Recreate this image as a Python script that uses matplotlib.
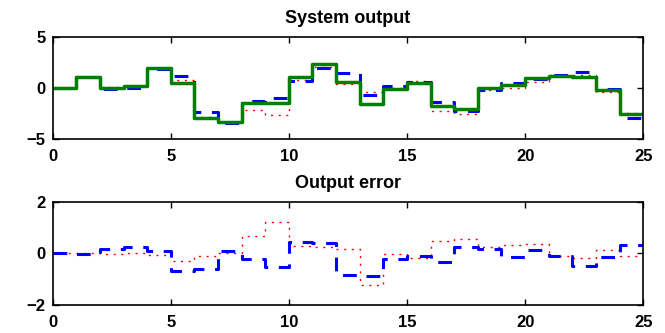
import numpy as np
import matplotlib
matplotlib.use("Agg")
from matplotlib import pyplot as plt

plt.rcParams['font.family'] = ['Liberation Sans', 'DejaVu Sans']
plt.rcParams['font.weight'] = 'bold'

# measured system output, one value per sample interval [k, k+1)
y_sys = [0.0, 1.1, 0.03, 0.22, 1.92, 0.48, -2.92, -3.28, -1.5, -1.45,
         1.1, 2.34, 0.6, -1.58, -0.05, 0.48, -1.72, -2.0, 0.0, 0.32,
         0.98, 1.2, 1.08, -0.22, -2.55]
# output errors of the two models (system minus model)
err_blue = [0.0, -0.02, 0.17, 0.26, 0.08, -0.7, -0.6, 0.1, -0.22, -0.52,
            0.45, 0.4, -0.85, -0.87, -0.22, -0.11, -0.32, 0.23, 0.17, -0.13,
            0.15, -0.1, -0.48, -0.15, 0.33]
err_red = [0.0, 0.0, -0.03, 0.0, -0.05, -0.28, -0.09, 0.0, 0.66, 1.23,
           0.3, 0.25, 0.17, -1.22, -0.03, -0.18, 0.49, 0.56, 0.23, 0.33,
           0.36, -0.1, -0.18, 0.15, -0.12]
xticks = [0, 5, 10, 15, 20, 25]

y_sys = np.array(y_sys)
err_blue = np.array(err_blue)
err_red = np.array(err_red)
y_blue = y_sys - err_blue
y_red = y_sys - err_red
t = np.arange(len(y_sys) + 1)


def stairs(ax, v, **kw):
    ax.step(t, np.append(v, v[-1]), where='post', **kw)


fig = plt.figure(figsize=(6.65, 3.33), dpi=100)
ax1 = fig.add_axes([0.0792, 0.5817, 0.888, 0.308])
ax2 = fig.add_axes([0.0792, 0.0841, 0.888, 0.310])

red_kw = dict(color='red', lw=1.0, dashes=(1.5, 4))
blue_kw = dict(color='blue', lw=2.2, dashes=(4.5, 3.5))

stairs(ax1, y_red, **red_kw)
stairs(ax1, y_blue, **blue_kw)
stairs(ax1, y_sys, color=(0, 0.5, 0), lw=2.5)
ax1.set_ylim(-5, 5)
ax1.set_yticks([-5, 0, 5])
ax1.set_title('System output', fontsize=13, fontweight='bold', pad=10)

stairs(ax2, err_red, **red_kw)
stairs(ax2, err_blue, **blue_kw)
ax2.set_ylim(-2, 2)
ax2.set_yticks([-2, 0, 2])
ax2.set_title('Output error', fontsize=13, fontweight='bold', pad=10)

for ax in (ax1, ax2):
    ax.set_xlim(0, 25)
    ax.set_xticks(xticks)
    ax.tick_params(direction='in', top=True, right=True, length=4, width=1,
                   labelsize=12)
    ax.tick_params(axis='x', pad=7)
    ax.tick_params(axis='y', pad=5)
    for s in ax.spines.values():
        s.set_linewidth(1.2)

fig.savefig('out.png', dpi=100)
